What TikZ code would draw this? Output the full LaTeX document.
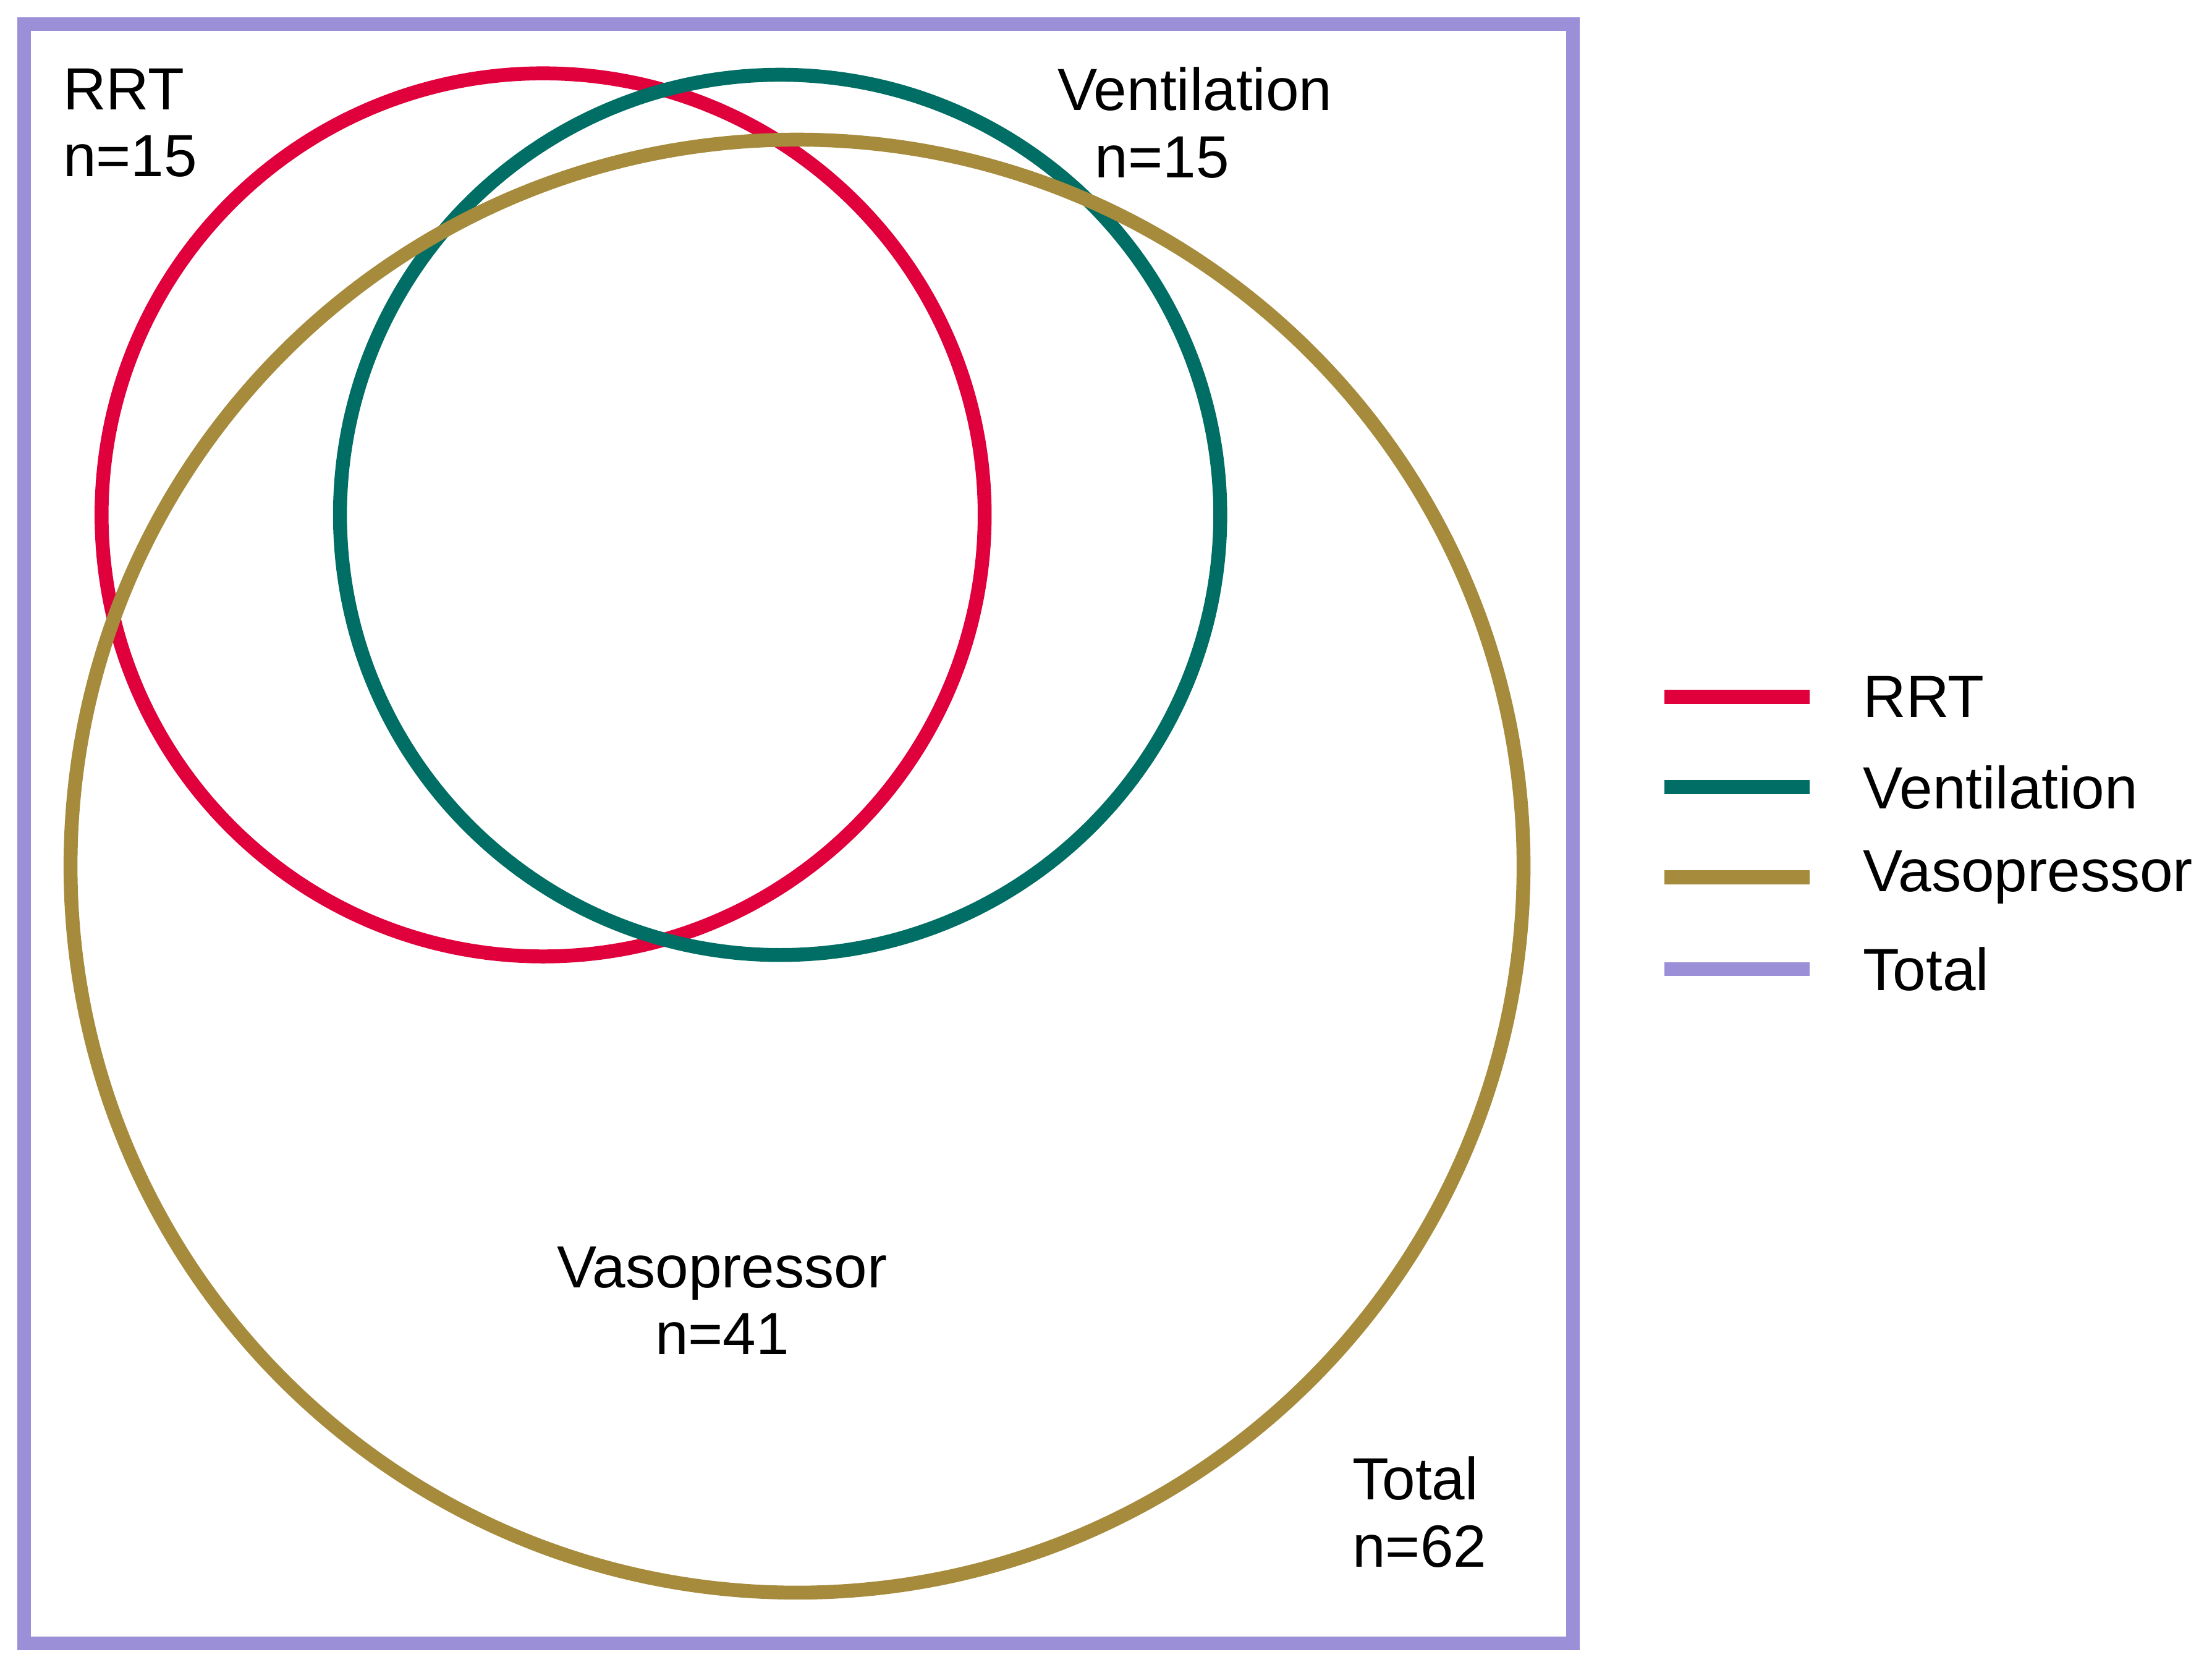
\documentclass[tikz,border=0pt]{standalone}
\usepackage{fontspec}
\setmainfont{Liberation Sans}
\definecolor{rrt}{HTML}{E0003C}
\definecolor{vent}{HTML}{006E64}
\definecolor{vaso}{HTML}{A68B3C}
\definecolor{tot}{HTML}{9B8FD8}
\begin{document}
\begin{tikzpicture}[x=0.01cm,y=-0.01cm,
  ring/.style={line width=2.8pt},
  lab/.style={font=\fontsize{12}{13.5}\selectfont,align=center,inner sep=0pt},
  leg/.style={line width=2.8pt}]
\useasboundingbox (0,0) rectangle (1568,1180);
\draw[tot,line width=2.8pt] (17,17) rectangle (1115,1165);
\draw[rrt,ring] (385,365) circle[radius=313];
\draw[vent,ring] (553,365) circle[radius=312];
\draw[vaso,ring] (565,614) circle[radius=515];
\node[lab,align=left,anchor=north west] (l1) at (44,48) {RRT\\n=15};
\node[lab] (l2) at (847,87) {Ventilation\\\hspace*{-1.1em}n=15};
\node[lab] (l3) at (512,922) {Vasopressor\\n=41};
\node[lab,align=left,anchor=north west] (l4) at (958,1032) {Total\\n=62};
\foreach \c/\t/\y [count=\i] in {rrt/RRT/494,vent/Ventilation/558,vaso/Vasopressor/622,tot/Total/687}{
  \coordinate (a\i) at (1180,\y);
  \coordinate (b\i) at (1283,\y);
  \draw[\c,leg] (a\i) -- (b\i);
  \node[lab,anchor=west] (t\i) at (1320,\y) {\t};
}
\end{tikzpicture}
\end{document}
